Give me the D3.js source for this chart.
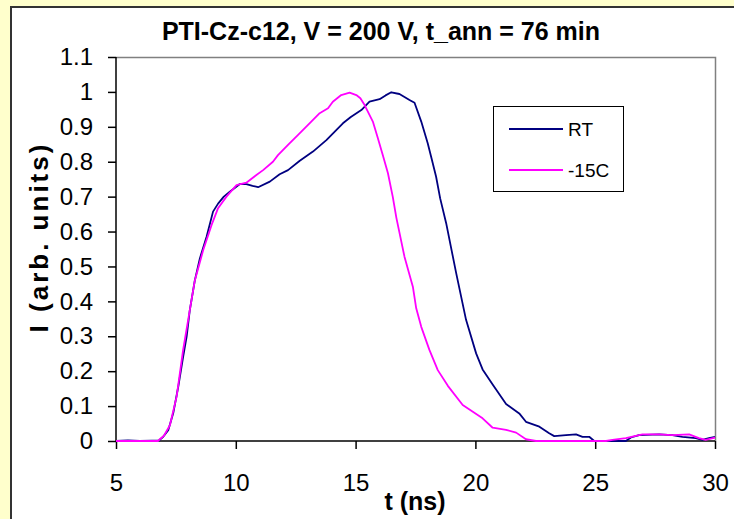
<!DOCTYPE html>
<html><head><meta charset="utf-8">
<script src="https://cdn.jsdelivr.net/npm/d3@7"></script>
<style>
html,body{margin:0;padding:0;background:#FFFFCC;}
svg{display:block;}
text{font-family:"Liberation Sans",Arial,sans-serif;fill:#000;}
</style></head>
<body>
<svg id="chart" width="734" height="519"></svg>
<script>
const titleText = "PTI-Cz-c12, V = 200 V, t_ann = 76 min";
const xLabel = "t (ns)";
const yLabel = "I (arb. units)";
const seriesNames = ["RT", "-15C"];
const seriesColors = ["#000080", "#FF00FF"];
const xTicks = [5, 10, 15, 20, 25, 30];
const yTicks = [0, 0.1, 0.2, 0.3, 0.4, 0.5, 0.6, 0.7, 0.8, 0.9, 1, 1.1];

const tRT = [5, 5.5, 6, 6.5, 6.8, 6.97, 7.18, 7.39, 7.6, 7.8, 7.95, 8.08, 8.29, 8.5, 8.78, 9.05, 9.26, 9.5, 9.75, 10.17, 10.44, 10.7, 10.93, 11.42, 11.83, 12.18, 12.67, 13.22, 13.78, 14.47, 14.8, 15.24, 15.58, 16.0, 16.25, 16.49, 16.83, 17.25, 17.46, 17.74, 18.01, 18.15, 18.36, 18.53, 18.78, 19.2, 19.61, 20.03, 20.3, 20.72, 21.28, 21.83, 22.11, 22.67, 23.08, 23.29, 23.78, 24.2, 24.47, 24.75, 24.96, 26.28, 26.49, 26.83, 27.67, 28.22, 28.64, 29.2, 29.47, 29.75, 30];
const iRT = [0, 0.002, 0, 0.001, 0.002, 0.012, 0.031, 0.08, 0.156, 0.24, 0.30, 0.375, 0.46, 0.523, 0.585, 0.657, 0.68, 0.70, 0.714, 0.736, 0.736, 0.731, 0.727, 0.743, 0.764, 0.776, 0.803, 0.829, 0.862, 0.91, 0.928, 0.948, 0.972, 0.979, 0.99, 0.999, 0.994, 0.977, 0.969, 0.915, 0.853, 0.815, 0.757, 0.695, 0.624, 0.48, 0.347, 0.251, 0.205, 0.162, 0.106, 0.079, 0.055, 0.041, 0.022, 0.014, 0.017, 0.019, 0.012, 0.012, 0, 0, 0.01, 0.017, 0.019, 0.017, 0.012, 0.008, 0.003, 0.008, 0.012];

const tC = [5, 5.5, 6, 6.5, 6.75, 6.83, 7.0, 7.25, 7.53, 7.8, 8.08, 8.29, 8.64, 8.99, 9.26, 9.61, 10.03, 10.44, 10.86, 11.14, 11.55, 11.76, 12.2, 12.6, 13.15, 13.5, 13.85, 14.05, 14.4, 14.75, 15.03, 15.2, 15.37, 15.72, 15.93, 16.14, 16.35, 16.55, 16.7, 17.04, 17.39, 17.53, 17.74, 18.08, 18.43, 18.85, 19.47, 20.3, 20.72, 21.28, 21.7, 22.11, 22.53, 25.45, 25.72, 26.28, 26.97, 27.67, 28.22, 28.92, 29.33, 29.61, 30];
const iC = [0, 0, 0, 0, 0, 0.005, 0.015, 0.045, 0.127, 0.26, 0.375, 0.46, 0.547, 0.619, 0.667, 0.70, 0.733, 0.74, 0.762, 0.776, 0.80, 0.819, 0.85, 0.877, 0.915, 0.939, 0.953, 0.972, 0.991, 0.998, 0.991, 0.982, 0.963, 0.915, 0.867, 0.818, 0.767, 0.70, 0.64, 0.528, 0.442, 0.38, 0.327, 0.261, 0.203, 0.158, 0.103, 0.065, 0.038, 0.032, 0.024, 0.005, 0, 0, 0.003, 0.008, 0.019, 0.019, 0.017, 0.019, 0.008, 0.003, 0.01];

const series = [
  {name: seriesNames[0], color: seriesColors[0], pts: tRT.map((t, i) => [t, iRT[i]])},
  {name: seriesNames[1], color: seriesColors[1], pts: tC.map((t, i) => [t, iC[i]])}
];

const svg = d3.select("#chart");
const L = 116, T = 57, R = 715, B = 441;
const x = d3.scaleLinear().domain([5, 30]).range([L, R]);
const y = d3.scaleLinear().domain([0, 1.1]).range([B, T]);

svg.append("rect").attr("x", 11).attr("y", 7).attr("width", 740).attr("height", 530)
  .attr("fill", "#fff").attr("stroke", "#333").attr("stroke-width", 2);

svg.append("path").attr("d", `M${L},${T+0.5}H${R+0.5}V${B}`)
  .attr("fill", "none").attr("stroke", "#808080").attr("stroke-width", 1.5);

const yAxis = d3.axisLeft(y).tickValues(yTicks).tickSize(8).tickPadding(15)
  .tickFormat(d => d3.format("~g")(d));
const gy = svg.append("g").attr("transform", `translate(${L},0)`).call(yAxis);
const xAxis = d3.axisBottom(x).tickValues(xTicks).tickSize(8).tickPadding(25);
const gx = svg.append("g").attr("transform", `translate(0,${B})`).call(xAxis);
[gx, gy].forEach(g => {
  g.select(".domain").attr("stroke", "#000").attr("stroke-width", 1.5);
  g.selectAll(".tick line").attr("stroke", "#000").attr("stroke-width", 1.5);
  g.selectAll(".tick text").attr("font-size", 24).attr("font-family", "Liberation Sans, Arial, sans-serif").attr("fill", "#000");
});
gx.select(".domain").attr("d", `M${L},0H${R}`);
gy.select(".domain").attr("d", `M0,${B}V${T}`);

const line = d3.line().x(d => x(d[0])).y(d => y(d[1]));
series.forEach(s => {
  svg.append("path").datum(s.pts).attr("d", line)
    .attr("fill", "none").attr("stroke", s.color).attr("stroke-width", 1.8)
    .attr("stroke-linejoin", "round");
});

svg.append("text").attr("x", 381).attr("y", 40).attr("text-anchor", "middle")
  .attr("font-size", 25).attr("font-weight", "bold").text(titleText);

svg.append("text").attr("x", 415).attr("y", 510).attr("text-anchor", "middle")
  .attr("font-size", 25).attr("font-weight", "bold").text(xLabel);
svg.append("text").attr("transform", "translate(48,237) rotate(-90)").attr("text-anchor", "middle")
  .attr("font-size", 26).attr("font-weight", "bold").attr("letter-spacing", 3).text(yLabel);

const lg = svg.append("g");
lg.append("rect").attr("x", 493.5).attr("y", 106.5).attr("width", 130).attr("height", 85)
  .attr("fill", "#fff").attr("stroke", "#000").attr("stroke-width", 1);
const ly = [129, 170];
series.forEach((s, i) => {
  lg.append("line").attr("x1", 509).attr("x2", 563).attr("y1", ly[i]).attr("y2", ly[i])
    .attr("stroke", s.color).attr("stroke-width", 1.8);
  lg.append("text").attr("x", 568).attr("y", ly[i]).attr("dy", "0.36em")
    .attr("font-size", 19).text(s.name);
});
</script>
</body></html>
